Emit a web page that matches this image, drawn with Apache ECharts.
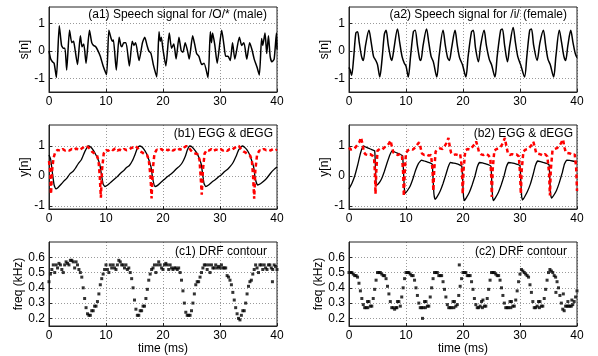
<!DOCTYPE html>
<html><head><meta charset="utf-8">
<script src="https://cdn.jsdelivr.net/npm/echarts@6/dist/echarts.min.js"></script>
<style>html,body{margin:0;padding:0;background:#fff}#c{width:598px;height:356px}</style>
</head><body><div id="c"></div>
<script>
// ---------- tick labels ----------
const timeTicks = [0, 10, 20, 30, 40];
const ampTicks = [-1, 0, 1];
const freqTicks = [0.2, 0.3, 0.4, 0.5, 0.6];

// ---------- titles ----------
const titles = ['(a1) Speech signal for /O/* (male)', '(a2) Speech signal for /i/ (female)',
  '(b1) EGG & dEGG', '(b2) EGG & dEGG', '(c1) DRF contour', '(c2) DRF contour'];
const yNames = ['s[n]', 'y[n]', 'freq (kHz)'];
const xName = 'time (ms)';

// ---------- (a1) speech, male: [time ms, amplitude] ----------
const speechMale = [[0,0],[0.3,-0.3],[0.6,-0.4],[0.9,-0.45],[1.3,-0.97],[1.8,0.92],[2.2,0.2],[2.5,0.1],[2.8,0.1],[3.1,-0.7],[3.6,0.75],[4.0,0.3],[4.3,0.35],[4.5,0.15],[5.0,-0.5],[5.5,0.55],[5.8,0.15],[6.1,0.25],[6.5,-0.45],[7.1,0.75],[7.5,0.3],[7.8,0.2],[8.2,0.15],[8.6,0.0],[9.0,-0.2],[9.5,-0.55],[10.1,-0.87],[10.5,0.75],[10.9,0.45],[11.1,0.35],[11.3,0.4],[11.8,-0.7],[12.3,0.5],[12.6,0.2],[12.8,0.15],[13.1,0.3],[13.5,0.3],[14.1,-0.55],[14.6,0.35],[14.9,0.2],[15.2,0.3],[15.8,-0.35],[16.4,0.3],[16.8,0.5],[17.2,0.2],[17.5,0.0],[17.9,-0.1],[18.3,-0.5],[18.9,-0.95],[19.3,0.7],[19.5,0.35],[19.7,0.5],[20.0,0.05],[20.5,-0.55],[21.1,0.65],[21.5,0.1],[21.9,0.25],[22.3,-0.3],[22.8,0.5],[23.2,0.0],[23.5,-0.05],[23.9,0.3],[24.3,0.0],[24.6,-0.3],[25.2,0.55],[25.6,0.2],[25.9,-0.1],[26.3,-0.2],[26.8,-0.5],[27.2,-0.45],[27.9,-0.97],[28.3,0.7],[28.5,0.3],[28.7,0.65],[29.1,0.2],[29.5,-0.45],[30.3,0.75],[30.7,0.2],[31.0,-0.2],[31.4,-0.2],[31.8,-0.35],[32.2,0.3],[32.6,-0.3],[33.4,0.5],[33.8,0.2],[34.2,0.3],[34.7,-0.3],[35.2,0.3],[35.6,0.05],[36.0,-0.3],[36.5,-0.6],[36.9,-0.88],[37.3,0.45],[37.5,0.2],[37.9,0.65],[38.2,-0.1],[38.5,0.55],[38.8,-0.2],[39.1,-0.4],[39.5,-0.3],[39.9,0.65],[40,0.05]];

// ---------- (a2) speech, female ----------
const speechFemale = [[0,-0.6],[0.2,-0.7],[0.46,-0.9],[0.8,-0.3],[1.2,0.65],[1.5,0.7],[1.8,0.3],[2.2,-0.2],[2.5,-0.35],[2.9,0.2],[3.5,0.75],[3.9,0.3],[4.3,-0.2],[4.7,-0.35],[5.0,-0.5],[5.4,-0.95],[5.8,-0.3],[6.2,0.6],[6.5,0.75],[6.9,0.2],[7.3,-0.25],[7.5,-0.35],[7.9,0.1],[8.5,0.8],[8.9,0.3],[9.3,-0.2],[9.7,-0.45],[10.0,-0.55],[10.4,-0.95],[10.8,-0.2],[11.3,0.7],[11.6,0.75],[12.0,0.2],[12.4,-0.3],[12.6,-0.35],[13.0,0.2],[13.6,0.8],[14.0,0.3],[14.4,-0.2],[14.8,-0.4],[15.4,-0.95],[15.8,-0.2],[16.5,0.75],[16.9,0.2],[17.3,-0.25],[17.6,-0.35],[18.0,0.1],[18.6,0.75],[19.0,0.2],[19.4,-0.25],[19.9,-0.5],[20.5,-0.95],[20.9,-0.2],[21.5,0.7],[21.8,0.75],[22.2,0.1],[22.7,-0.4],[23.1,0.2],[23.7,0.75],[24.1,0.2],[24.6,-0.3],[25.0,-0.5],[25.6,-0.95],[26.0,-0.2],[26.6,0.75],[26.9,0.8],[27.3,0.2],[27.8,-0.4],[28.2,0.2],[28.8,0.85],[29.2,0.3],[29.6,-0.2],[30.1,-0.5],[30.8,-0.95],[31.2,-0.2],[31.7,0.75],[32.0,0.8],[32.4,0.2],[33.0,-0.35],[33.5,0.3],[34.1,0.75],[34.5,0.2],[34.9,-0.3],[35.3,-0.5],[35.9,-0.95],[36.3,-0.2],[36.9,0.75],[37.3,0.3],[37.7,-0.2],[38.0,-0.35],[38.4,0.2],[38.9,0.75],[39.3,0.3],[39.7,-0.1],[40,-0.25]];

// ---------- (b1) EGG and dEGG, male ----------
const eggMale = [[0,0.7],[0.3,0.55],[0.6,0.1],[0.9,-0.3],[1.2,-0.43],[1.6,-0.38],[2.2,-0.26],[2.7,-0.15],[3.1,-0.08],[3.7,0.08],[4.2,0.15],[4.6,0.25],[5.1,0.4],[5.7,0.55],[6.3,0.82],[6.9,1.0],[7.3,0.97],[7.7,0.88],[8.1,0.75],[8.5,0.6],[8.9,0.4],[9.2,0.05],[9.5,-0.27],[9.8,-0.35],[10.3,-0.3],[10.9,-0.2],[11.5,-0.1],[12.0,-0.02],[12.6,0.1],[13.1,0.18],[13.6,0.28],[14.1,0.35],[14.6,0.5],[15.1,0.72],[15.5,0.92],[15.9,1.0],[16.3,0.97],[16.7,0.88],[17.1,0.75],[17.5,0.55],[17.9,0.3],[18.2,-0.1],[18.6,-0.35],[19.0,-0.32],[19.6,-0.22],[20.2,-0.12],[20.8,-0.02],[21.3,0.05],[21.9,0.15],[22.4,0.25],[22.9,0.33],[23.4,0.45],[23.9,0.65],[24.3,0.88],[24.7,1.0],[25.1,0.97],[25.5,0.88],[25.9,0.78],[26.3,0.62],[26.7,0.4],[27.0,0.0],[27.2,-0.25],[27.5,-0.35],[28.0,-0.3],[28.6,-0.2],[29.2,-0.12],[29.8,-0.02],[30.3,0.05],[30.8,0.15],[31.3,0.22],[31.8,0.32],[32.3,0.45],[32.8,0.65],[33.3,0.88],[33.9,1.0],[34.3,0.96],[34.7,0.88],[35.1,0.75],[35.5,0.55],[35.9,0.3],[36.2,-0.1],[36.6,-0.3],[37.1,-0.26],[37.7,-0.17],[38.3,-0.05],[38.9,0.1],[39.5,0.22],[40,0.3]];
const deggMale = [[0,0.5],[0.2,0.2],[0.35,-0.6],[0.55,0.2],[0.8,0.6],[1.1,0.8],[1.5,0.87],[2.0,0.84],[2.4,0.9],[2.8,0.85],[3.2,0.88],[3.6,0.85],[4.0,0.9],[4.4,0.87],[4.8,0.92],[5.2,0.86],[5.6,0.9],[6.0,0.95],[6.4,1.0],[6.8,0.97],[7.2,0.9],[7.6,0.8],[8.0,0.75],[8.4,0.7],[8.7,0.5],[8.9,0.0],[9.1,-0.72],[9.3,0.2],[9.6,0.75],[10.0,0.87],[10.4,0.84],[10.8,0.9],[11.2,0.86],[11.6,0.92],[12.0,0.85],[12.4,0.88],[12.8,0.84],[13.2,0.9],[13.6,0.86],[14.0,0.88],[14.4,0.93],[14.8,0.96],[15.2,1.0],[15.6,0.92],[16.0,0.82],[16.4,0.78],[16.8,0.72],[17.2,0.7],[17.5,0.55],[17.8,0.0],[18.0,-0.75],[18.2,0.2],[18.5,0.75],[18.9,0.88],[19.3,0.85],[19.7,0.9],[20.1,0.84],[20.5,0.88],[20.9,0.86],[21.3,0.91],[21.7,0.85],[22.1,0.88],[22.5,0.84],[22.9,0.9],[23.3,0.87],[23.7,0.95],[24.1,1.0],[24.5,0.95],[24.9,0.85],[25.3,0.78],[25.7,0.75],[26.1,0.72],[26.4,0.55],[26.6,0.0],[26.8,-0.62],[27.0,0.2],[27.3,0.75],[27.7,0.87],[28.1,0.85],[28.5,0.9],[28.9,0.84],[29.3,0.88],[29.7,0.86],[30.1,0.9],[30.5,0.85],[30.9,0.88],[31.3,0.84],[31.7,0.9],[32.1,0.88],[32.5,0.93],[32.9,0.98],[33.3,1.0],[33.7,0.9],[34.1,0.82],[34.5,0.78],[34.9,0.72],[35.3,0.68],[35.6,0.5],[35.8,0.0],[36.0,-0.76],[36.2,0.2],[36.5,0.7],[36.9,0.85],[37.3,0.83],[37.7,0.9],[38.1,0.86],[38.5,0.88],[38.9,0.85],[39.3,0.9],[39.7,0.86],[40,0.88]];

// ---------- (b2) EGG and dEGG, female ----------
const eggFemale = [[0,-0.43],[0.5,-0.25],[1.0,0.0],[1.5,0.35],[2.0,0.75],[2.5,1.0],[3.0,0.96],[3.5,0.92],[4.0,0.88],[4.5,0.84],[4.6,0.5],[4.7,-0.1],[4.85,-0.3],[5.2,-0.25],[5.7,-0.1],[6.2,0.15],[6.7,0.45],[7.2,0.72],[7.6,0.84],[8.0,0.8],[8.5,0.76],[9.0,0.72],[9.4,0.68],[9.55,0.2],[9.7,-0.4],[9.85,-0.58],[10.2,-0.5],[10.7,-0.35],[11.2,-0.1],[11.7,0.2],[12.2,0.42],[12.7,0.53],[13.2,0.5],[13.7,0.47],[14.2,0.44],[14.6,0.4],[14.75,-0.1],[14.9,-0.6],[15.1,-0.78],[15.5,-0.68],[16.0,-0.5],[16.5,-0.25],[17.0,0.05],[17.4,0.3],[17.8,0.45],[18.3,0.43],[18.8,0.41],[19.3,0.38],[19.8,0.32],[19.95,-0.2],[20.1,-0.7],[20.25,-0.82],[20.6,-0.72],[21.1,-0.55],[21.6,-0.3],[22.1,0.0],[22.5,0.3],[22.9,0.45],[23.4,0.44],[23.9,0.41],[24.4,0.38],[24.9,0.33],[25.05,-0.2],[25.2,-0.72],[25.35,-0.82],[25.7,-0.72],[26.2,-0.55],[26.7,-0.3],[27.2,0.0],[27.6,0.3],[28.0,0.45],[28.5,0.44],[29.0,0.42],[29.5,0.39],[30.0,0.35],[30.15,-0.2],[30.3,-0.7],[30.45,-0.8],[30.8,-0.7],[31.3,-0.52],[31.8,-0.28],[32.3,0.05],[32.7,0.35],[33.1,0.5],[33.6,0.48],[34.1,0.45],[34.6,0.42],[35.1,0.38],[35.25,-0.2],[35.4,-0.65],[35.55,-0.74],[35.9,-0.65],[36.4,-0.48],[36.9,-0.22],[37.4,0.1],[37.8,0.4],[38.2,0.53],[38.7,0.52],[39.2,0.5],[39.6,0.48],[40,0.45]];
const deggFemale = [[0,0.95],[0.3,0.88],[0.6,0.93],[0.9,0.9],[1.2,0.97],[1.5,1.05],[1.8,1.12],[2.1,1.28],[2.4,1.05],[2.6,0.8],[2.9,0.72],[3.3,0.7],[3.7,0.73],[4.1,0.68],[4.4,0.6],[4.55,0.1],[4.65,-0.6],[4.8,0.2],[5.0,0.85],[5.4,0.9],[5.8,0.88],[6.2,0.95],[6.6,1.0],[7.0,1.08],[7.3,1.18],[7.55,0.95],[7.8,0.78],[8.2,0.72],[8.6,0.7],[9.0,0.74],[9.3,0.66],[9.5,0.1],[9.62,-0.67],[9.8,0.2],[10.0,0.78],[10.4,0.86],[10.8,0.9],[11.2,0.88],[11.6,0.95],[12.0,1.05],[12.3,1.12],[12.55,0.95],[12.8,0.75],[13.2,0.7],[13.6,0.72],[14.0,0.68],[14.4,0.7],[14.65,0.2],[14.8,-0.5],[14.95,0.2],[15.2,0.82],[15.6,0.88],[16.0,0.92],[16.4,0.9],[16.8,1.0],[17.1,1.1],[17.45,1.27],[17.7,0.95],[17.9,0.78],[18.3,0.7],[18.7,0.72],[19.1,0.7],[19.5,0.73],[19.8,0.3],[19.95,-0.6],[20.1,0.2],[20.4,0.85],[20.8,0.9],[21.2,0.88],[21.6,0.96],[22.0,1.05],[22.3,1.15],[22.55,1.0],[22.8,0.8],[23.2,0.72],[23.6,0.7],[24.0,0.74],[24.4,0.7],[24.8,0.6],[24.95,0.0],[25.05,-0.7],[25.2,0.2],[25.5,0.85],[25.9,0.9],[26.3,0.92],[26.7,1.0],[27.0,1.1],[27.35,1.27],[27.6,1.0],[27.85,0.78],[28.2,0.7],[28.6,0.73],[29.0,0.7],[29.4,0.72],[29.8,0.65],[30.0,0.1],[30.15,-0.6],[30.3,0.2],[30.6,0.82],[31.0,0.88],[31.4,0.9],[31.8,0.98],[32.1,1.05],[32.35,1.14],[32.6,0.95],[32.85,0.76],[33.2,0.7],[33.6,0.72],[34.0,0.68],[34.4,0.73],[34.8,0.65],[35.1,0.1],[35.25,-0.65],[35.4,0.2],[35.7,0.85],[36.1,0.9],[36.5,0.93],[36.9,1.0],[37.2,1.1],[37.55,1.22],[37.8,0.95],[38.05,0.78],[38.4,0.72],[38.8,0.75],[39.2,0.7],[39.6,0.72],[39.85,0.3],[40,-0.5]];

// ---------- (c1)/(c2) DRF contours, one value every 0.25 ms (kHz) ----------
const drfStep = 0.25;
const drfMale = [0.44,0.49,0.52,0.55,0.50,0.55,0.53,0.56,0.55,0.52,0.50,0.55,0.57,0.56,0.55,0.58,0.58,0.57,0.53,0.57,0.55,0.52,0.50,0.47,0.40,0.33,0.27,0.23,0.22,0.22,0.25,0.25,0.28,0.28,0.31,0.36,0.42,0.46,0.49,0.52,0.55,0.52,0.50,0.55,0.53,0.55,0.53,0.52,0.55,0.58,0.57,0.55,0.55,0.53,0.55,0.52,0.53,0.50,0.46,0.40,0.32,0.26,0.22,0.22,0.25,0.25,0.28,0.28,0.33,0.39,0.45,0.49,0.52,0.53,0.55,0.50,0.55,0.57,0.55,0.53,0.52,0.55,0.56,0.55,0.52,0.55,0.53,0.52,0.53,0.53,0.52,0.53,0.50,0.45,0.38,0.30,0.24,0.22,0.22,0.22,0.25,0.30,0.36,0.42,0.44,0.44,0.47,0.50,0.53,0.55,0.55,0.52,0.55,0.50,0.55,0.53,0.53,0.55,0.53,0.54,0.53,0.55,0.53,0.53,0.53,0.48,0.47,0.45,0.42,0.37,0.32,0.27,0.23,0.20,0.19,0.22,0.25,0.25,0.30,0.36,0.41,0.44,0.45,0.49,0.52,0.55,0.53,0.50,0.55,0.55,0.52,0.55,0.53,0.52,0.55,0.55,0.53,0.52,0.55,0.54,0.52];
const drfMaleExtra = [[39.2,0.44]];
const drfFemale = [0.50,0.50,0.50,0.49,0.48,0.48,0.47,0.43,0.38,0.33,0.29,0.27,0.27,0.31,0.31,0.28,0.28,0.33,0.39,0.45,0.50,0.50,0.50,0.49,0.48,0.48,0.46,0.41,0.36,0.31,0.27,0.27,0.26,0.27,0.31,0.31,0.28,0.34,0.40,0.46,0.50,0.50,0.50,0.49,0.48,0.48,0.45,0.40,0.35,0.30,0.27,0.27,0.27,0.31,0.31,0.28,0.28,0.34,0.40,0.46,0.50,0.50,0.50,0.48,0.48,0.48,0.44,0.39,0.34,0.29,0.27,0.27,0.27,0.31,0.31,0.28,0.29,0.35,0.41,0.46,0.50,0.50,0.50,0.48,0.48,0.48,0.44,0.39,0.33,0.29,0.27,0.27,0.28,0.31,0.32,0.28,0.28,0.33,0.39,0.45,0.50,0.50,0.50,0.49,0.48,0.48,0.45,0.40,0.35,0.30,0.27,0.27,0.27,0.31,0.31,0.28,0.28,0.32,0.38,0.44,0.49,0.52,0.51,0.50,0.49,0.48,0.47,0.42,0.37,0.31,0.27,0.27,0.28,0.31,0.31,0.28,0.28,0.33,0.39,0.45,0.50,0.52,0.51,0.50,0.48,0.47,0.44,0.40,0.35,0.30,0.26,0.25,0.28,0.28,0.28,0.28,0.28,0.29,0.31,0.34,0.38];
const drfFemaleExtra = [[12.9,0.2],[19.35,0.55],[3.3,0.27],[8.4,0.27],[13.4,0.27],[18.4,0.27],[23.4,0.27],[28.4,0.27],[33.4,0.27],[36.3,0.37],[37.6,0.36],[38.4,0.31],[39.1,0.32]];

// ---------- layout ----------
const FONT = 'Liberation Sans, Arial, sans-serif';
const lefts = [49, 349], plotW = 228;
const tops = [7, 125, 242], heights = [85, 84, 84];
const yRanges = [[-1.5, 1.6], [-1.1, 1.7], [0.15, 0.7]];
const yTicks = [ampTicks, ampTicks, freqTicks];
const titleRight = [[267, 567], [273, 573], [267, 567]];
const titleTop = [9, 128, 246];

const grids = [], xAxes = [], yAxes = [], series = [], titleList = [];
const ink = '#222';
const gridLine = {show: true, lineStyle: {type: [1, 2], color: '#9a9a9a', width: 1}};
for (let r = 0; r < 3; r++) {
  for (let c = 0; c < 2; c++) {
    const k = r * 2 + c;
    grids.push({left: lefts[c], top: tops[r], width: plotW, height: heights[r], show: true,
      borderColor: ink, borderWidth: 1, backgroundColor: 'transparent', z: 3});
    xAxes.push({gridIndex: k, type: 'value', min: timeTicks[0], max: timeTicks[timeTicks.length - 1], interval: 10,
      name: r === 2 ? xName : '', nameLocation: 'middle', nameGap: 16,
      nameTextStyle: {fontSize: 12, color: '#000', fontFamily: FONT},
      axisLine: {show: true, onZero: false, lineStyle: {color: ink, width: 1}},
      axisTick: {show: true, inside: true, length: 3, lineStyle: {color: ink}},
      axisLabel: {fontSize: 12, color: '#000', margin: 4, fontFamily: FONT},
      splitLine: gridLine});
    yAxes.push({gridIndex: k, type: 'value', min: yRanges[r][0], max: yRanges[r][1],
      name: yNames[r], nameLocation: 'middle', nameGap: 17,
      nameTextStyle: {fontSize: 12, color: '#000', fontFamily: FONT},
      axisLine: {show: true, onZero: false, lineStyle: {color: ink, width: 1}},
      axisTick: {show: true, inside: true, length: 3, lineStyle: {color: ink}, customValues: yTicks[r]},
      axisLabel: {fontSize: 12, color: '#000', margin: 4, fontFamily: FONT, customValues: yTicks[r]},
      splitLine: gridLine});
    titleList.push({text: titles[k], right: 598 - titleRight[r][c], top: titleTop[r], padding: 0,
      textStyle: {fontSize: 12, fontWeight: 'normal', color: '#000', fontFamily: FONT}});
  }
}

const lineS = (k, data, color, width, type, smooth) => ({type: 'line', xAxisIndex: k, yAxisIndex: k, data: data,
  showSymbol: false, symbol: 'none', silent: true, clip: true, smooth: smooth || false,
  lineStyle: {color: color, width: width, type: type || 'solid'}});
series.push(lineS(0, speechMale, '#000', 1.5, 'solid', 0.2));
series.push(lineS(1, speechFemale, '#000', 1.5, 'solid', 0.3));
series.push(lineS(2, eggMale, '#000', 1.3, 'solid', 0.15));
series.push(lineS(2, deggMale, '#ff0000', 2.5, [4, 3]));
series.push(lineS(3, eggFemale, '#000', 1.3, 'solid', 0.1));
series.push(lineS(3, deggFemale, '#ff0000', 2.5, [4, 3]));
const dots = (k, vals, extra) => ({type: 'scatter', xAxisIndex: k, yAxisIndex: k, silent: true,
  data: vals.map((v, i) => [i * drfStep, v]).concat(extra),
  symbol: 'rect', symbolSize: 3, itemStyle: {color: '#000'}});
series.push(dots(4, drfMale, drfMaleExtra));
series.push(dots(5, drfFemale, drfFemaleExtra));

const chart = echarts.init(document.getElementById('c'), null, {renderer: 'canvas'});
chart.setOption({animation: false, backgroundColor: '#fff', title: titleList,
  grid: grids, xAxis: xAxes, yAxis: yAxes, series: series});
</script></body></html>
